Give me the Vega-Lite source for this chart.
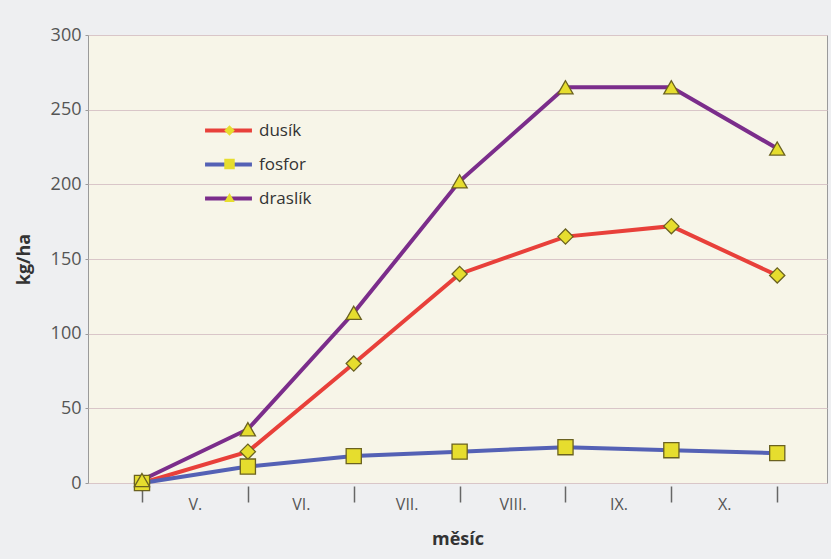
{
  "$schema": "https://vega.github.io/schema/vega-lite/v6.json",
  "width": 739,
  "height": 448,
  "autosize": {"type": "none"},
  "padding": {"left": 88, "top": 35, "right": 4, "bottom": 76},
  "background": "#eeeff1",
  "config": {
    "view": {"fill": "#f7f5e8", "stroke": "#9a9a9a", "strokeWidth": 1},
    "font": "Open Sans"
  },
  "data": {
    "values": [
      {"prvek": "dusík", "x": 0, "kg": 0},
      {"prvek": "dusík", "x": 1, "kg": 21},
      {"prvek": "dusík", "x": 2, "kg": 80},
      {"prvek": "dusík", "x": 3, "kg": 140},
      {"prvek": "dusík", "x": 4, "kg": 165},
      {"prvek": "dusík", "x": 5, "kg": 172},
      {"prvek": "dusík", "x": 6, "kg": 139},
      {"prvek": "fosfor", "x": 0, "kg": 0},
      {"prvek": "fosfor", "x": 1, "kg": 11},
      {"prvek": "fosfor", "x": 2, "kg": 18},
      {"prvek": "fosfor", "x": 3, "kg": 21},
      {"prvek": "fosfor", "x": 4, "kg": 24},
      {"prvek": "fosfor", "x": 5, "kg": 22},
      {"prvek": "fosfor", "x": 6, "kg": 20},
      {"prvek": "draslík", "x": 0, "kg": 2},
      {"prvek": "draslík", "x": 1, "kg": 36},
      {"prvek": "draslík", "x": 2, "kg": 114},
      {"prvek": "draslík", "x": 3, "kg": 202},
      {"prvek": "draslík", "x": 4, "kg": 265},
      {"prvek": "draslík", "x": 5, "kg": 265},
      {"prvek": "draslík", "x": 6, "kg": 224}
    ]
  },
  "encoding": {
    "x": {
      "field": "x",
      "type": "quantitative",
      "scale": {"domain": [-0.51, 6.47], "nice": false, "zero": false},
      "axis": {
        "title": "měsíc",
        "titleFont": "Open Sans",
        "titleFontSize": 18,
        "titleFontWeight": "bold",
        "titleColor": "#333333",
        "titlePadding": 18,
        "values": [0, 0.5, 1, 1.5, 2, 2.5, 3, 3.5, 4, 4.5, 5, 5.5, 6],
        "labelExpr": "datum.value % 1 === 0 ? '' : ['V.','VI.','VII.','VIII.','IX.','X.'][floor(datum.value)]",
        "labelFont": "Open Sans",
        "labelFontSize": 16,
        "labelColor": "#555555",
        "labelPadding": -6,
        "labelFlush": false,
        "labelOverlap": false,
        "domain": false,
        "grid": false,
        "offset": 3,
        "tickSize": 16,
        "tickColor": "#666666",
        "tickWidth": 1.5,
        "tickOpacity": {"condition": {"test": "datum.value % 1 !== 0", "value": 0}, "value": 1}
      }
    },
    "y": {
      "field": "kg",
      "type": "quantitative",
      "scale": {"domain": [0, 300], "nice": false},
      "axis": {
        "title": "kg/ha",
        "titleFont": "Open Sans",
        "titleFontSize": 18,
        "titleFontWeight": "bold",
        "titleColor": "#333333",
        "titlePadding": 17,
        "values": [0, 50, 100, 150, 200, 250, 300],
        "labelFont": "Open Sans",
        "labelFontSize": 18,
        "labelColor": "#555555",
        "labelPadding": 4,
        "domain": false,
        "tickSize": 3,
        "tickColor": "#9a9a9a",
        "grid": true,
        "gridColor": "#d9c6c8",
        "gridWidth": 1
      }
    }
  },
  "layer": [
    {
      "mark": {"type": "line", "strokeWidth": 4},
      "encoding": {
        "color": {
          "field": "prvek",
          "type": "nominal",
          "scale": {"domain": ["dusík", "fosfor", "draslík"], "range": ["#e8403a", "#5461b5", "#7b2d8b"]},
          "legend": {
            "orient": "none",
            "legendX": 115,
            "legendY": 70,
            "title": null,
            "symbolType": "stroke",
            "symbolSize": 2200,
            "symbolStrokeWidth": 4,
            "labelFont": "Open Sans",
            "labelFontSize": 17,
            "labelColor": "#333333",
            "labelOffset": 5,
            "rowPadding": -11
          }
        }
      }
    },
    {
      "mark": {"type": "point", "filled": true, "fill": "#e6dd2e", "stroke": "#6b6220", "strokeWidth": 1.3, "opacity": 1, "size": 230},
      "encoding": {
        "shape": {
          "field": "prvek",
          "type": "nominal",
          "scale": {"domain": ["dusík", "fosfor", "draslík"], "range": ["diamond", "square", "triangle-up"]},
          "legend": {
            "orient": "top-left",
            "offset": 87,
            "title": null,
            "symbolOffset": 46,
            "symbolSize": 110,
            "symbolFillColor": "#e6dd2e",
            "symbolStrokeColor": "#6b6220",
            "symbolStrokeWidth": 1.2,
            "labelFont": "Open Sans",
            "labelFontSize": 17,
            "labelExpr": "' '",
            "labelOpacity": 0,
            "labelOffset": 5,
            "rowPadding": 15.5
          }
        }
      }
    }
  ]
}
